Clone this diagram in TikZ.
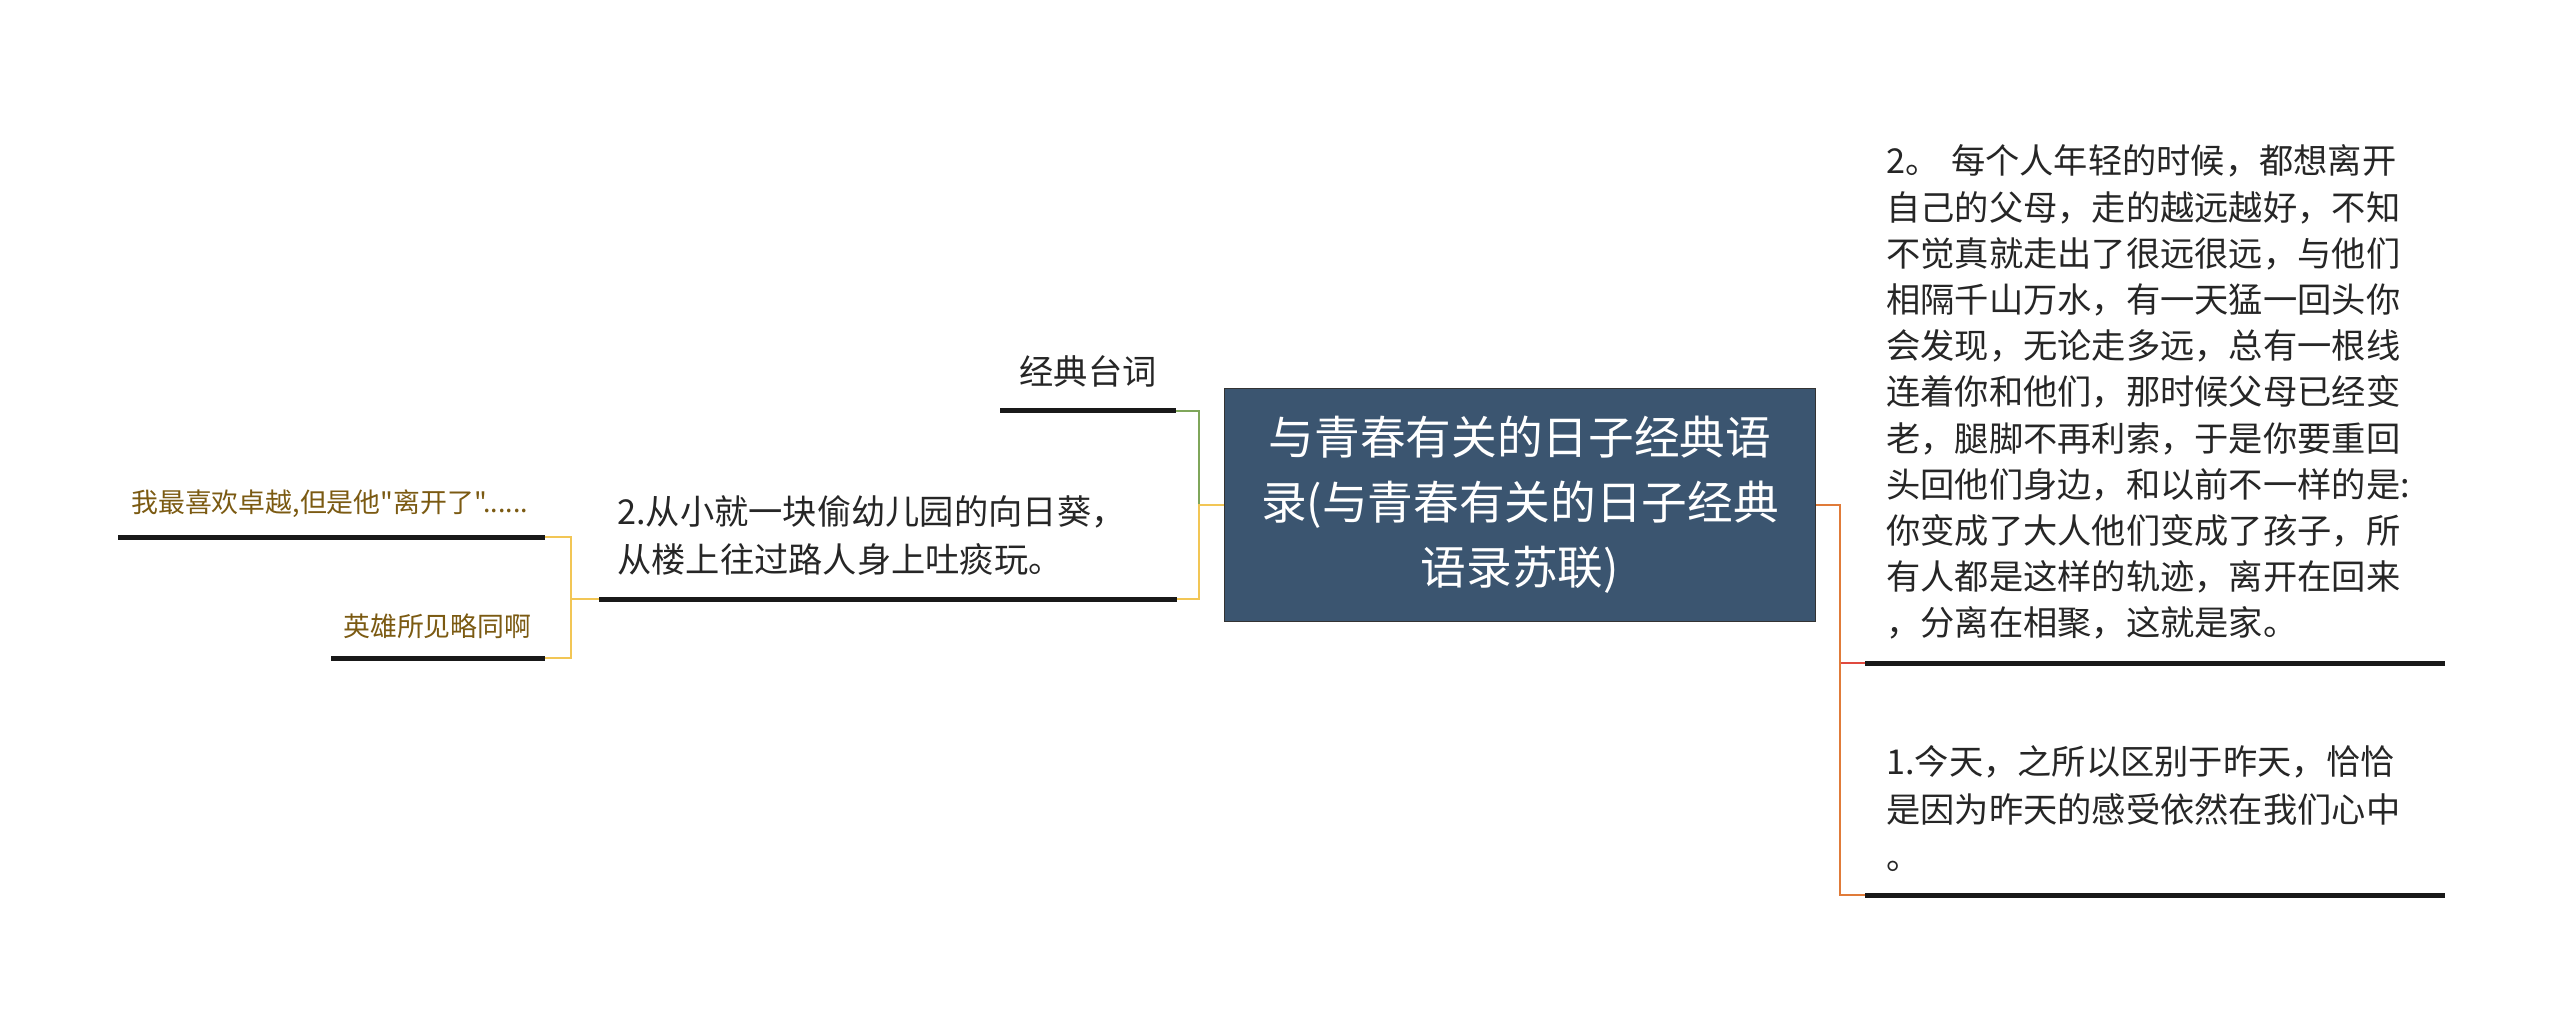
\documentclass[tikz,border=0pt]{standalone}
\usepackage{fontspec}
\setmainfont{Noto Sans CJK SC}[Ligatures=TeXOff]
\usetikzlibrary{positioning}
\definecolor{rootblue}{HTML}{3B5570}
\definecolor{linkgreen}{HTML}{7FA65A}
\definecolor{linkyellow}{HTML}{F2C655}
\definecolor{linkorange}{HTML}{E07B39}
\definecolor{linkred}{HTML}{E04A3F}
\definecolor{leafbrown}{HTML}{7B5A12}
\begin{document}
\begin{tikzpicture}[
    x = 0.02cm, y = -0.02cm,
    every node/.style = {inner sep = 0pt},
    rootbox/.style = {draw = black!80, fill = rootblue, text = white, minimum width = 11.82cm, minimum height = 4.66cm, text width = 11.2cm, align = center, font = \fontsize{26}{37}\selectfont},
    topic/.style = {anchor = south west, align = left, inner ysep = 0.46cm, text = black!85, font = \fontsize{19.5}{26.3}\selectfont},
    leaf/.style = {anchor = south west, align = left, inner ysep = 0.38cm, text = leafbrown, font = \fontsize{15.3}{20}\selectfont},
    uline/.style = {line width = 0.1cm, black!90},
    link/.style = {line width = 1.2pt}
]
\useasboundingbox (0,0) rectangle (2560,1013);
\node[rootbox] (root) at (1520,505) {与青春有关的日子经典语\\录(与青春有关的日子经典\\语录苏联)};
\node[topic, anchor = south, text width = 3.5cm, align = center, inner xsep = 0pt] (classic) at (1088,411) {经典台词};
\node[topic, text width = 10.82cm, inner xsep = 0.36cm, font = \fontsize{19.5}{27.5}\selectfont] (youth) at (599,599) {2.从小就一块偷幼儿园的向日葵，\\从楼上往过路人身上吐痰玩。};
\node[leaf, text width = 8.0cm, inner xsep = 0.26cm] (fav) at (118,537) {我最喜欢卓越,但是他"离开了"......};
\node[leaf, text width = 3.78cm, inner xsep = 0.24cm] (hero) at (331,658) {英雄所见略同啊};
\node[topic, text width = 10.74cm, inner xsep = 0.42cm] (home) at (1865,663) {2。 每个人年轻的时候，都想离开\\自己的父母，走的越远越好，不知\\不觉真就走出了很远很远，与他们\\相隔千山万水，有一天猛一回头你\\会发现，无论走多远，总有一根线\\连着你和他们，那时候父母已经变\\老，腿脚不再利索，于是你要重回\\头回他们身边，和以前不一样的是:\\你变成了大人他们变成了孩子，所\\有人都是这样的轨迹，离开在回来\\，分离在相聚，这就是家。};
\node[topic, text width = 10.74cm, inner xsep = 0.42cm, font = \fontsize{19.5}{27}\selectfont] (today) at (1865,895) {1.今天，之所以区别于昨天，恰恰\\是因为昨天的感受依然在我们心中\\。};
% links
\draw[link, linkgreen] (root.west) -- ([xshift = -0.5cm]root.west) |- (classic.south east);
\draw[link, linkyellow] (root.west) -- ([xshift = -0.5cm]root.west) |- (youth.south east);
\draw[link, linkyellow] (youth.south west) -- ([xshift = -0.56cm]youth.south west) |- (fav.south east);
\draw[link, linkyellow] ([xshift = -0.56cm]youth.south west) |- (hero.south east);
\draw[link, linkred] ([xshift = 0.48cm]root.east) |- (home.south west);
\draw[link, linkorange] (root.east) -- ([xshift = 0.48cm]root.east) |- (today.south west);
% underlines
\foreach \n in {classic, youth, fav, hero, home, today}
    \draw[uline] (\n.south west) -- (\n.south east);
\end{tikzpicture}
\end{document}
